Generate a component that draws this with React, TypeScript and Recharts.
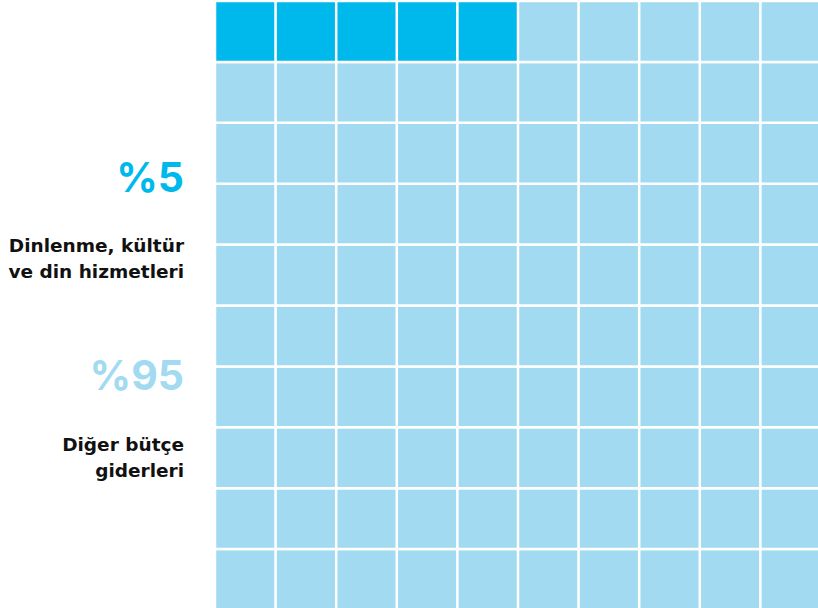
import React from 'react';
import { BarChart, Bar, XAxis, YAxis, Cell } from 'recharts';

// categories and shares (each grid cell = 1%)
const categories = ['Dinlenme, kültür ve din hizmetleri', 'Diğer bütçe giderleri'];
const shares = [5, 95];
const shareLabels = ['%5', '%95'];
const labelLines = [
    ['Dinlenme, kültür', 've din hizmetleri'],
    ['Diğer bütçe', 'giderleri'],
];
const colors = ['#00B9EC', '#A2DAF2'];
const columns = ['1', '2', '3', '4', '5', '6', '7', '8', '9', '10'];
const rowKeys = ['r0', 'r1', 'r2', 'r3', 'r4', 'r5', 'r6', 'r7', 'r8', 'r9'];

const data = columns.map((col) => {
    const row: Record<string, string | number> = { col };
    rowKeys.forEach((k) => { row[k] = 1; });
    return row;
});

// stack index s counts from the bottom, cells are numbered from the top-left
const cellColor = (s: number, c: number) => {
    const idx = (rowKeys.length - 1 - s) * columns.length + c;
    return idx < shares[0] ? colors[0] : colors[1];
};

const numFont = "Inter, 'Noto Sans', sans-serif";
const labelFont = "'DejaVu Sans', sans-serif";

export default function App() {
    return (
        <div style={{ position: 'absolute', left: 0, top: 0, width: 818, height: 608, overflow: 'hidden', background: '#fff' }}>
            <svg width={216} height={608} style={{ position: 'absolute', left: 0, top: 0 }}>
                <text x={184} y={192} textAnchor="end" fontFamily={numFont} fontWeight={700} fontSize={41} fill={colors[0]}>
                    {shareLabels[0]}
                </text>
                {labelLines[0].map((t, i) => (
                    <text key={t} x={184} y={252 + i * 26} textAnchor="end" fontFamily={labelFont} fontWeight={700} fontSize={18.5} fill="#111">
                        {t}
                    </text>
                ))}
                <text x={184} y={390} textAnchor="end" fontFamily={numFont} fontWeight={700} fontSize={41} fill={colors[1]}>
                    {shareLabels[1]}
                </text>
                {labelLines[1].map((t, i) => (
                    <text key={t} x={184} y={451 + i * 26} textAnchor="end" fontFamily={labelFont} fontWeight={700} fontSize={18.5} fill="#111">
                        {t}
                    </text>
                ))}
                <title>{categories.join(' / ')}</title>
            </svg>
            <div style={{ position: 'absolute', left: 214.75, top: 0.75 }}>
                <BarChart width={606} height={609} data={data} barCategoryGap={0} margin={{ top: 0, right: 0, bottom: 0, left: 0 }}>
                    <XAxis dataKey="col" hide />
                    <YAxis type="number" domain={[0, 10]} hide />
                    {rowKeys.map((k, s) => (
                        <Bar key={k} dataKey={k} stackId="w" isAnimationActive={false} stroke="#fff" strokeWidth={2.5}>
                            {data.map((_, c) => (
                                <Cell key={c} fill={cellColor(s, c)} />
                            ))}
                        </Bar>
                    ))}
                </BarChart>
            </div>
        </div>
    );
}
